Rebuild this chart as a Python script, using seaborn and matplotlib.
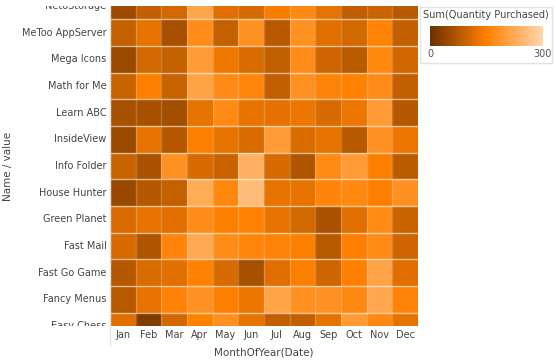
import numpy as np
import pandas as pd
import seaborn as sns
import matplotlib.pyplot as plt
from matplotlib.colors import LinearSegmentedColormap
from matplotlib.patches import Rectangle
from matplotlib.lines import Line2D
from matplotlib.transforms import Bbox, TransformedBbox

## data
months = ['Jan', 'Feb', 'Mar', 'Apr', 'May', 'Jun',
          'Jul', 'Aug', 'Sep', 'Oct', 'Nov', 'Dec']
apps = ['NetoStorage', 'MeToo AppServer', 'Mega Icons', 'Math for Me',
        'Learn ABC', 'InsideView', 'Info Folder', 'House Hunter',
        'Green Planet', 'Fast Mail', 'Fast Go Game', 'Fancy Menus',
        'Easy Chess']
quantity = [
    [50, 88, 106, 215, 119, 110, 145, 165, 125, 85, 95, 78],
    [90, 125, 62, 170, 90, 180, 78, 180, 120, 105, 155, 88],
    [48, 105, 90, 195, 135, 112, 88, 170, 100, 82, 162, 102],
    [95, 148, 95, 210, 168, 160, 88, 180, 155, 152, 172, 88],
    [62, 62, 58, 125, 168, 127, 122, 132, 110, 132, 195, 75],
    [48, 125, 75, 148, 127, 112, 195, 112, 125, 78, 180, 132],
    [95, 64, 180, 110, 95, 234, 110, 70, 168, 195, 148, 82],
    [46, 75, 90, 225, 162, 255, 125, 125, 158, 165, 148, 180],
    [112, 125, 120, 172, 148, 152, 125, 105, 64, 120, 168, 95],
    [110, 70, 158, 222, 172, 160, 155, 148, 78, 150, 168, 100],
    [75, 112, 120, 152, 110, 62, 119, 148, 100, 150, 212, 119],
    [78, 125, 155, 180, 148, 132, 212, 178, 180, 165, 218, 155],
    [119, 20, 105, 152, 178, 125, 88, 88, 125, 195, 165, 125],
]
cbar_ticks = [0, 300]

df = pd.DataFrame(quantity, index=apps, columns=months)

sns.set_theme(style='white')
plt.rcParams['font.family'] = ['DejaVu Sans']

W, H = 556, 363
fig = plt.figure(figsize=(W / 100, H / 100), dpi=100)
ax = fig.add_axes([110 / W, 1 - 326 / H, 308 / W, 320 / H])

cmap = LinearSegmentedColormap.from_list('qty', ['#6b3000', '#ff8000', '#ffd6ac'])
sns.heatmap(df, ax=ax, cmap=cmap, vmin=0, vmax=300, cbar=False)
ax.set_ylim(len(apps) - 0.5, 0.5)

# cell separators
for i in range(1, len(apps)):
    ax.axhline(i, color='white', alpha=0.6, lw=1)
for j in range(1, len(months)):
    ax.axvline(j, color='white', alpha=0.2, lw=1)

ax.set_yticks(np.arange(len(apps)) + 0.5)
ax.set_yticklabels(apps, rotation=0)
ax.set_xticks(np.arange(len(months)) + 0.5)
ax.set_xticklabels(months, rotation=0)
ax.tick_params(axis='both', which='major', length=0, labelsize=7,
               labelcolor='#444444')
ax.tick_params(axis='y', which='major', pad=2.5)
ax.tick_params(axis='x', which='major', pad=3)

# light row lines running into the label area
ax.set_yticks(list(np.arange(1, len(apps))) + [0.5, len(apps) - 0.5], minor=True)
ax.tick_params(axis='y', which='minor', length=68, width=1, color='#e8e8e8')

ax.set_ylabel('Name / value', fontsize=7.5, color='#444444')
ax.yaxis.set_label_coords(-0.315, 0.5)
ax.set_xlabel('MonthOfYear(Date)', fontsize=7.5, color='#444444')
ax.xaxis.set_label_coords(0.5, -0.066)
ax.xaxis.label.set_va('top')

# clip the half rows' labels like the scrolled view
clip = TransformedBbox(Bbox([[0, 1 - 326 / H], [1, 1 - 6 / H]]), fig.transFigure)
for lbl in ax.get_yticklabels():
    lbl.set_clip_box(clip)
    lbl.set_clip_on(True)

fig.add_artist(Line2D([110 / W, 110 / W], [1 - 345 / H, 1 - 6 / H],
                      transform=fig.transFigure, color='#e2e2e2', lw=1))

# legend box with gradient
fig.add_artist(Rectangle((420 / W, 1 - 63 / H), 132 / W, 56 / H,
                         transform=fig.transFigure, facecolor='white',
                         edgecolor='#e2e2e2', lw=1, zorder=-1))
fig.text(486 / W, 1 - 15 / H, 'Sum(Quantity Purchased)', ha='center',
         va='center', fontsize=7, color='#444444')
cax = fig.add_axes([430 / W, 1 - 46 / H, 113 / W, 20 / H])
cb = fig.colorbar(ax.collections[0], cax=cax, orientation='horizontal')
cb.set_ticks(cbar_ticks)
cb.outline.set_visible(False)
cax.tick_params(length=0, labelsize=7, labelcolor='#555555', pad=2)

fig.savefig('out.png', dpi=100)
